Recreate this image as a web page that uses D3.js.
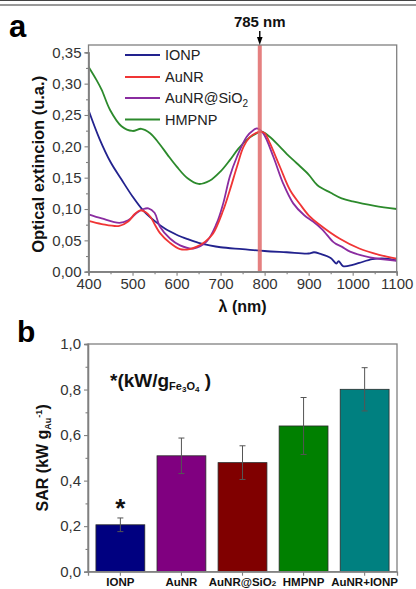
<!DOCTYPE html>
<html>
<head>
<meta charset="utf-8">
<script src="https://cdn.jsdelivr.net/npm/d3@7"></script>
<style>
  html, body { margin: 0; padding: 0; background: #fff; }
  svg { display: block; font-family: "Liberation Sans", Arial, sans-serif; }
</style>
</head>
<body>
<svg id="chart" width="416" height="589"></svg>
<script>
// ---------- Panel a data (extinction spectra) ----------
const ionpWl = [400,425,450,475,500,525,550,575,600,625,650,675,700,750,800,850,900,912,925,950,963,968,978,1000,1015,1045,1075,1100];
const ionpExt = [0.258,0.212,0.175,0.147,0.120,0.097,0.081,0.068,0.059,0.052,0.046,0.042,0.039,0.036,0.033,0.031,0.029,0.031,0.029,0.022,0.013,0.017,0.009,0.011,0.014,0.020,0.021,0.018];

const aunrWl = [400,430,470,490,505,517,530,540,562,585,608,630,646,665,683,706,721,737,752,767,780,790,800,812,835,858,880,900,925,970,1015,1060,1100];
const aunrExt = [0.081,0.076,0.073,0.080,0.092,0.098,0.095,0.088,0.062,0.046,0.036,0.036,0.040,0.048,0.061,0.098,0.130,0.167,0.199,0.215,0.221,0.2233,0.221,0.205,0.167,0.130,0.108,0.090,0.075,0.053,0.037,0.027,0.021];

const sio2Wl = [400,430,470,490,510,525,536,550,562,585,608,638,668,691,706,721,737,759,775,783,797,820,842,865,890,910,930,955,963,975,994,1039,1100];
const sio2Ext = [0.0915,0.085,0.078,0.082,0.094,0.100,0.101,0.094,0.072,0.053,0.042,0.037,0.048,0.077,0.109,0.152,0.183,0.215,0.226,0.2287,0.2207,0.183,0.141,0.109,0.090,0.080,0.068,0.048,0.044,0.040,0.032,0.023,0.0175];

const hmpnpWl = [400,418,430,449,475,500,520,540,560,580,600,625,650,675,700,721,740,759,775,793,810,835,850,873,900,920,950,975,1000,1050,1100];
const hmpnpExt = [0.327,0.306,0.290,0.258,0.232,0.2245,0.228,0.221,0.205,0.186,0.168,0.149,0.140,0.145,0.160,0.178,0.196,0.210,0.218,0.2233,0.216,0.199,0.188,0.173,0.155,0.138,0.126,0.117,0.112,0.105,0.100];

const seriesNames = ["IONP", "AuNR", "AuNR@SiO2", "HMPNP"];
const xTicksA = [400,500,600,700,800,900,1000,1100];
const yTicksA = [0,0.05,0.10,0.15,0.20,0.25,0.30,0.35];
const laserWl = 789;

// ---------- Panel b data (SAR) ----------
const sarCats = ["IONP", "AuNR", "AuNR@SiO2", "HMPNP", "AuNR+IONP"];
const sarVals = [0.206, 0.509, 0.479, 0.640, 0.801];
const sarErr  = [0.030, 0.078, 0.074, 0.125, 0.095];
const yTicksB = [0,0.2,0.4,0.6,0.8,1.0];

// ---------- styling ----------
const lineColors = ["#22228e", "#f03535", "#8a2ca0", "#2c8a2c"];
const barColors  = ["#000080", "#800080", "#800000", "#008000", "#008080"];
const frameColor = "#808080";
const tickColor = "#333";

const svg = d3.select("#chart");
const comma = f => v => d3.format(f)(v).replace(".", ",");

// header rules
svg.append("line").attr("x1",0).attr("x2",416).attr("y1",0.5).attr("y2",0.5).attr("stroke","#444").attr("stroke-width",1);
svg.append("line").attr("x1",0).attr("x2",416).attr("y1",5).attr("y2",5).attr("stroke","#777").attr("stroke-width",1.5);

// ================= Panel a =================
const A = {l: 88.5, r: 396.7, t: 45, b: 271.7};
const xA = d3.scaleLinear().domain([400,1100]).range([A.l, A.r]);
const yA = d3.scaleLinear().domain([0,0.35]).range([A.b, 52.3]);

svg.append("text").attr("x",9).attr("y",37).attr("font-size",31).attr("font-weight","bold").text("a");

// curves
const wls = [ionpWl, aunrWl, sio2Wl, hmpnpWl];
const exts = [ionpExt, aunrExt, sio2Ext, hmpnpExt];
const lineGen = d3.line().x(d => xA(d[0])).y(d => yA(d[1])).curve(d3.curveCatmullRom.alpha(0.5));
const gA = svg.append("g");
[3,0,2,1].forEach(i => {
  const pts = wls[i].map((w,k) => [w, exts[i][k]]);
  gA.append("path").attr("d", lineGen(pts)).attr("fill","none")
    .attr("stroke", lineColors[i]).attr("stroke-width",1.8);
});

// laser band
svg.append("rect").attr("x", xA(laserWl)-2).attr("width",4)
  .attr("y", A.t).attr("height", A.b - A.t)
  .attr("fill","#e06a6a").attr("opacity",0.85);

// frame
svg.append("rect").attr("x",A.l).attr("y",A.t).attr("width",A.r-A.l).attr("height",A.b-A.t)
  .attr("fill","none").attr("stroke",frameColor).attr("stroke-width",1.3);

// axes
svg.append("g").attr("transform",`translate(${A.l},0)`)
  .call(d3.axisLeft(yA).tickValues(yTicksA).tickFormat(comma(".2f")).tickSize(4).tickPadding(3));
svg.append("g").attr("transform",`translate(0,${A.b})`)
  .call(d3.axisBottom(xA).tickValues(xTicksA).tickFormat(d3.format("d")).tickSize(4).tickPadding(3));
// minor ticks
svg.append("g").attr("transform",`translate(${A.l},0)`)
  .call(d3.axisLeft(yA).tickValues(d3.range(0.025,0.35,0.05)).tickFormat("").tickSize(2.5));
svg.append("g").attr("transform",`translate(0,${A.b})`)
  .call(d3.axisBottom(xA).tickValues(d3.range(450,1100,100)).tickFormat("").tickSize(2.5));

// labels
svg.append("text").attr("transform",`translate(44,${(A.t+A.b)/2+6}) rotate(-90)`)
  .attr("text-anchor","middle").attr("font-size",16.5).attr("font-weight","bold")
  .attr("fill","#111").text("Optical extincion (u.a.)");
svg.append("text").attr("x",(A.l+A.r)/2).attr("y",312).attr("text-anchor","middle")
  .attr("font-size",16).attr("font-weight","bold").attr("fill","#111").text("λ (nm)");

// 785 nm marker
svg.append("text").attr("x",xA(laserWl)).attr("y",27).attr("text-anchor","middle")
  .attr("font-size",15).attr("font-weight","bold").attr("fill","#111").text("785 nm");
svg.append("line").attr("x1",xA(laserWl)).attr("x2",xA(laserWl)).attr("y1",31).attr("y2",39)
  .attr("stroke","#000").attr("stroke-width",1.4);
svg.append("path").attr("d",`M${xA(laserWl)-2.8},37 L${xA(laserWl)+2.8},37 L${xA(laserWl)},45 Z`).attr("fill","#000");

// legend
const legY = [55, 77, 98, 119.5];
seriesNames.forEach((name,i) => {
  svg.append("line").attr("x1",125).attr("x2",160).attr("y1",legY[i]).attr("y2",legY[i])
    .attr("stroke",lineColors[i]).attr("stroke-width",1.8);
  const t = svg.append("text").attr("x",165).attr("y",legY[i]+5).attr("font-size",14.5).attr("fill","#222");
  if (name === "AuNR@SiO2") {
    t.append("tspan").text("AuNR@SiO");
    t.append("tspan").attr("font-size",10).attr("dy",4).text("2");
  } else t.text(name);
});

// ================= Panel b =================
const B = {l: 88, r: 397, t: 344, b: 571.7};
const xB = d3.scaleBand().domain(sarCats).range([B.l, B.r]).paddingInner(0.2).paddingOuter(0.13);
const yB = d3.scaleLinear().domain([0,1]).range([B.b, B.t]);

svg.append("text").attr("x",17).attr("y",342).attr("font-size",30).attr("font-weight","bold").text("b");

// bars
svg.append("g").selectAll("rect").data(sarCats).join("rect")
  .attr("x", d => xB(d)).attr("width", xB.bandwidth())
  .attr("y", (d,i) => yB(sarVals[i])).attr("height", (d,i) => yB(0) - yB(sarVals[i]))
  .attr("fill", (d,i) => barColors[i]).attr("stroke","#2a2a2a").attr("stroke-width",0.8);

// error bars
const eg = svg.append("g").attr("stroke","#555").attr("stroke-width",1);
sarCats.forEach((c,i) => {
  const cx = xB(c) + xB.bandwidth()/2;
  const y1 = yB(sarVals[i]+sarErr[i]), y0 = yB(sarVals[i]-sarErr[i]);
  eg.append("line").attr("x1",cx).attr("x2",cx).attr("y1",y1).attr("y2",y0);
  eg.append("line").attr("x1",cx-3).attr("x2",cx+3).attr("y1",y1).attr("y2",y1);
  eg.append("line").attr("x1",cx-3).attr("x2",cx+3).attr("y1",y0).attr("y2",y0);
});

// frame
svg.append("rect").attr("x",B.l).attr("y",B.t).attr("width",B.r-B.l).attr("height",B.b-B.t)
  .attr("fill","none").attr("stroke",frameColor).attr("stroke-width",1.3);

// axes
svg.append("g").attr("transform",`translate(${B.l},0)`)
  .call(d3.axisLeft(yB).tickValues(yTicksB).tickFormat(comma(".1f")).tickSize(4).tickPadding(3));
svg.append("g").attr("transform",`translate(${B.l},0)`)
  .call(d3.axisLeft(yB).tickValues(d3.range(0.1,1,0.2)).tickFormat("").tickSize(2.5));
svg.append("g").attr("transform",`translate(0,${B.b})`)
  .call(d3.axisBottom(xB).tickSize(4).tickFormat(""));

// category labels
sarCats.forEach(c => {
  const t = svg.append("text").attr("x", xB(c)+xB.bandwidth()/2).attr("y",586)
    .attr("text-anchor","middle").attr("font-size",11.5).attr("font-weight","bold").attr("fill","#111");
  if (c === "AuNR@SiO2") {
    t.append("tspan").text("AuNR@SiO");
    t.append("tspan").attr("font-size",8).text("2");
  } else t.text(c);
});

// y label panel b
const yl = svg.append("text").attr("transform",`translate(48,${(B.t+B.b)/2}) rotate(-90)`)
  .attr("text-anchor","middle").attr("font-weight","bold").attr("font-size",16).attr("fill","#111");
yl.append("tspan").text("SAR (kW g");
yl.append("tspan").attr("font-size",9).attr("dy",3).text("Au");
yl.append("tspan").attr("font-size",9).attr("dy",-9).text("-1");
yl.append("tspan").attr("dy",6).text(")");

// annotation
const an = svg.append("text").attr("x",110).attr("y",387).attr("font-weight","bold").attr("font-size",19).attr("fill","#111");
an.append("tspan").text("*(kW/g");
an.append("tspan").attr("font-size",11).attr("dy",3).text("Fe");
an.append("tspan").attr("font-size",8).attr("dy",2).text("3");
an.append("tspan").attr("font-size",11).attr("dy",-2).text("O");
an.append("tspan").attr("font-size",8).attr("dy",2).text("4");
an.append("tspan").attr("font-size",19).attr("dy",-5).text(" )");

// star above IONP
svg.append("text").attr("x", xB("IONP")+xB.bandwidth()/2).attr("y",517).attr("text-anchor","middle")
  .attr("font-size",26).attr("font-weight","bold").attr("fill","#111").text("*");

// axis styling
svg.selectAll(".domain").attr("stroke",frameColor).attr("stroke-width",1.3);
svg.selectAll(".tick line").attr("stroke",frameColor).attr("stroke-width",1.1);
svg.selectAll(".tick text").attr("font-size",15).attr("fill",tickColor).attr("font-family","Liberation Sans, Arial, sans-serif");
</script>
</body>
</html>
